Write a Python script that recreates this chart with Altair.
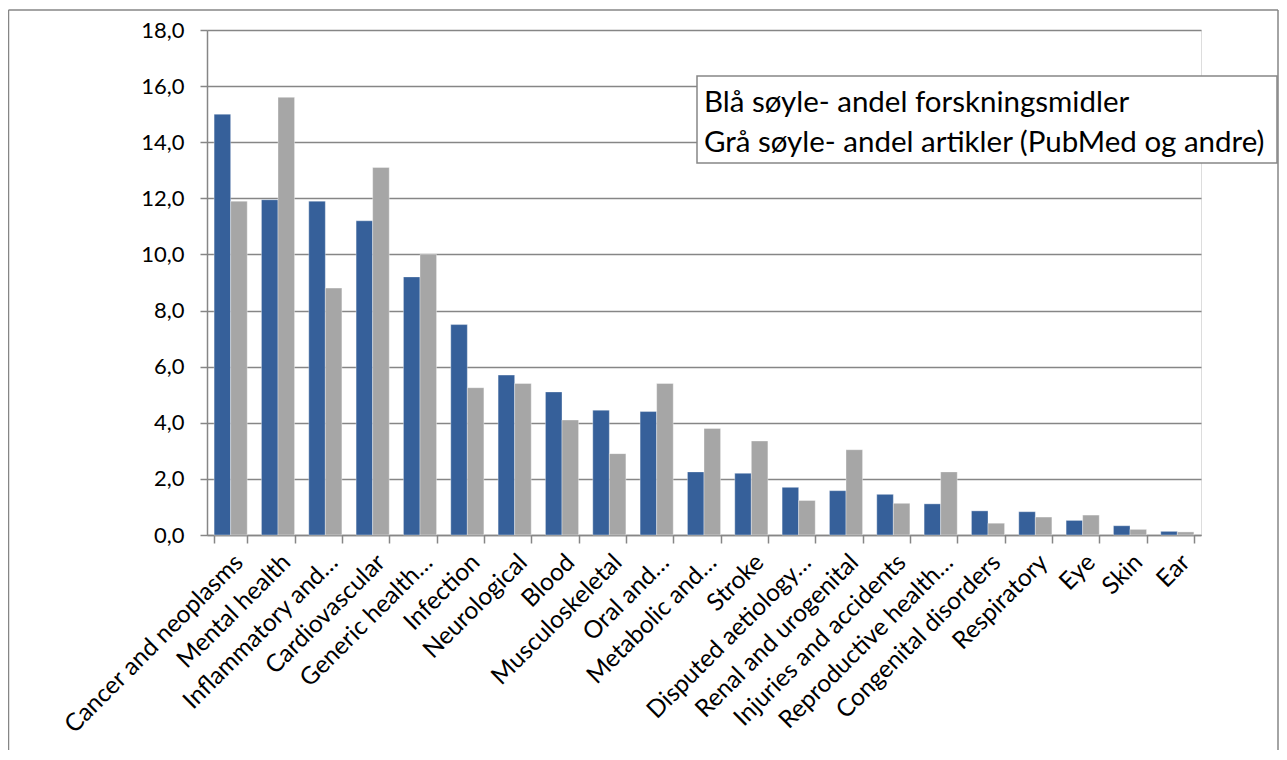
import altair as alt
import pandas as pd

categories = ["Cancer and neoplasms", "Mental health", "Inflammatory and…", "Cardiovascular",
              "Generic health…", "Infection", "Neurological", "Blood", "Musculoskeletal",
              "Oral and…", "Metabolic and…", "Stroke", "Disputed aetiology…",
              "Renal and urogenital", "Injuries and accidents", "Reproductive health…",
              "Congenital disorders", "Respiratory", "Eye", "Skin", "Ear"]
funding = [15.0, 11.95, 11.9, 11.2, 9.2, 7.5, 5.7, 5.1, 4.45, 4.4, 2.25, 2.2, 1.7, 1.58,
           1.45, 1.11, 0.86, 0.83, 0.52, 0.33, 0.13]
articles = [11.9, 15.6, 8.8, 13.1, 10.0, 5.25, 5.4, 4.1, 2.9, 5.4, 3.8, 3.35, 1.23, 3.04,
            1.13, 2.25, 0.42, 0.64, 0.71, 0.20, 0.11]
series_names = ["Forskningsmidler", "Artikler"]
series_colors = ["#36609A", "#A6A6A6"]
legend_lines = ["Blå søyle- andel forskningsmidler",
                "Grå søyle- andel artikler (PubMed og andre)"]
y_ticks = [0, 2, 4, 6, 8, 10, 12, 14, 16, 18]

rows = []
for c, f, a in zip(categories, funding, articles):
    rows.append({"cat": c, "serie": series_names[0], "verdi": f})
    rows.append({"cat": c, "serie": series_names[1], "verdi": a})
df = pd.DataFrame(rows)

FONT = "Lato"
GRID = "#868686"

bars = alt.Chart(df).mark_bar(stroke="white", strokeWidth=0.6, strokeOpacity=0.6).encode(
    x=alt.X("cat:N", sort=categories, title=None,
            scale=alt.Scale(paddingInner=0.3, paddingOuter=0.15),
            axis=alt.Axis(labelAngle=-45, labelAlign="right", labelBaseline="top",
                          labelFontSize=24.5, labelFont=FONT, labelColor="black",
                          labelPadding=7, labelLimit=400, tickBand="extent",
                          tickSize=8, tickColor=GRID, tickWidth=1.5,
                          domainColor=GRID, domainWidth=1.5, grid=False)),
    xOffset=alt.XOffset("serie:N", sort=series_names),
    y=alt.Y("verdi:Q", title=None,
            scale=alt.Scale(domain=[0, 18], nice=False),
            axis=alt.Axis(values=y_ticks, labelExpr="replace(format(datum.value, '.1f'), '.', ',')",
                          labelFontSize=22, labelFont=FONT, labelColor="black",
                          labelPadding=16, tickSize=7, tickColor=GRID, tickWidth=1.5,
                          domainColor=GRID, domainWidth=1.5,
                          gridColor=GRID, gridWidth=1.5)),
    color=alt.Color("serie:N", scale=alt.Scale(domain=series_names, range=series_colors),
                    legend=None),
)

dummy = pd.DataFrame({"d": [0]})

border_left = alt.Chart(dummy).mark_rule(stroke=GRID, strokeWidth=1.5).encode(
    x=alt.value(-198.5), y=alt.value(-20), y2=alt.value(740)
)
border_right = alt.Chart(dummy).mark_rule(stroke=GRID, strokeWidth=1.5).encode(
    x=alt.value(1071), y=alt.value(-20), y2=alt.value(740)
)
border_top = alt.Chart(dummy).mark_rule(stroke=GRID, strokeWidth=1.5).encode(
    x=alt.value(-198.5), x2=alt.value(1071), y=alt.value(-20)
)

legend_box = alt.Chart(dummy).mark_rect(fill="white", stroke=GRID, strokeWidth=1.5).encode(
    x=alt.value(490), x2=alt.value(1070), y=alt.value(46), y2=alt.value(133)
)

legend_text = alt.Chart(dummy).mark_text(
    align="left", baseline="alphabetic", font=FONT, fontSize=29.5, color="black", lineHeight=40
).encode(
    x=alt.value(497), y=alt.value(82), text=alt.value(legend_lines)
)

chart = alt.layer(border_left, border_right, border_top, bars, legend_box, legend_text).properties(
    width=994, height=505,
    autosize=alt.AutoSizeParams(type="none"),
    padding={"left": 199, "top": 22, "right": 78, "bottom": 215},
).configure_view(stroke=GRID, strokeWidth=1.5).configure(background="white")

chart.save("out.html", embed_options={"renderer": "svg", "actions": False})
